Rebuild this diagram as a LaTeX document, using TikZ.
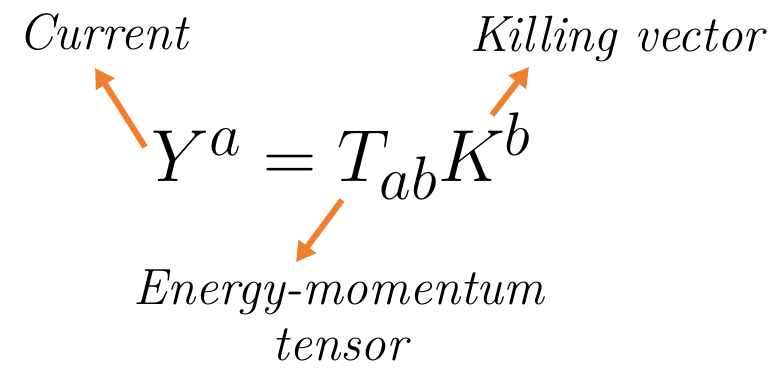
\documentclass[tikz,border=0pt]{standalone}
\usepackage{graphicx}
\usetikzlibrary{arrows.meta}
\definecolor{arrorange}{RGB}{238,128,48}
\tikzset{
  lbltext/.style={font=\fontsize{29}{34}\selectfont\itshape, inner sep=0pt},
  arr/.style={draw=arrorange, line width=3.4pt, -{Triangle[length=11pt, width=12pt]}}
}
\begin{document}
\begin{tikzpicture}[x=0.02cm, y=-0.02cm]
    \useasboundingbox (0,0) rectangle (774,381);
    % Equation
    \node[font=\fontsize{24.88}{30}\selectfont, anchor=base, inner sep=0pt] (eq) at (342,182) {\scalebox{1.688}{$Y^a = T_{ab}K^b$}};

    % Labels
    \node[lbltext, anchor=base] (cur) at (103,50) {Current};
    \node[lbltext, anchor=base] (kil) at (617,52) {Killing vector};
    \node[lbltext, anchor=base] (emt) at (339,305) {Energy-momentum};
    \node[lbltext, anchor=base] (ten) at (340,360) {tensor};

    % Arrows
    \coordinate (ytail) at (145,147);
    \coordinate (ytip) at (95,68);
    \coordinate (ktail) at (492,115);
    \coordinate (ktip) at (529,67);
    \coordinate (ttail) at (342,200);
    \coordinate (ttip) at (296,262);
    \draw[arr] (ytail) -- (ytip);
    \draw[arr] (ktail) -- (ktip);
    \draw[arr] (ttail) -- (ttip);
\end{tikzpicture}
\end{document}
